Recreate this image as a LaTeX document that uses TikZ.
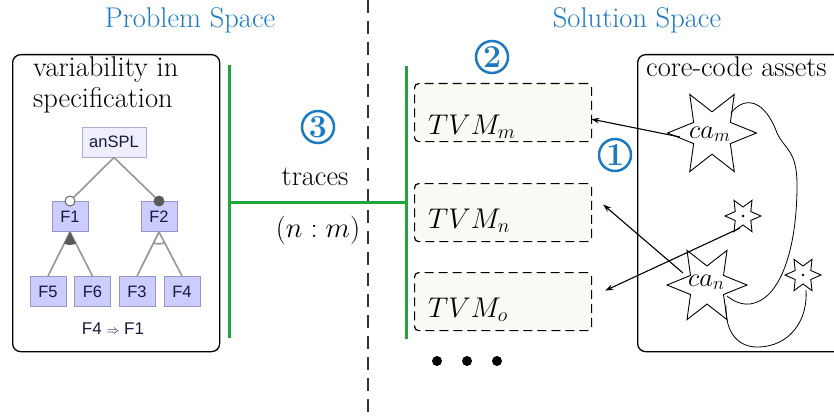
\RequirePackage{fix-cm}
\documentclass[tikz,border=0pt]{standalone}
\usepackage{fontspec}
\newfontfamily\fsans{Liberation Sans}
\usetikzlibrary{shapes.geometric,arrows.meta,calc}
\definecolor{tblue}{RGB}{28,122,194}
\definecolor{tgreen}{RGB}{30,165,60}
\definecolor{fbfill}{RGB}{204,204,255}
\definecolor{fbdraw}{RGB}{150,150,200}
\definecolor{rootfill}{RGB}{238,238,255}
\definecolor{fline}{RGB}{150,150,150}
\definecolor{fdark}{RGB}{90,90,90}
\definecolor{ftext}{RGB}{25,25,60}
\definecolor{tvmfill}{RGB}{250,250,245}
\begin{document}
\begin{tikzpicture}[x=1pt,y=-1pt,
  txt/.style={font=\fontsize{28.5}{32}\selectfont, inner sep=0, anchor=base},
  titletxt/.style={txt, text=tblue},
  numc/.style={circle, draw=tblue, text=tblue, line width=2.5pt, minimum size=32pt, inner sep=0, font=\fontsize{32}{32}\selectfont\bfseries},
  feat/.style={draw=fbdraw, fill=fbfill, line width=0.9pt, minimum width=36pt, minimum height=30pt, inner sep=0, font=\fsans\fontsize{16.5}{16.5}\selectfont, text=ftext},
  tvmbox/.style={draw, dash pattern=on 9pt off 5pt, line width=1.2pt, rounded corners=4pt, fill=tvmfill, minimum width=177pt, minimum height=58pt, inner sep=0, anchor=north west},
  tvmtxt/.style={font=\fontsize{28.5}{32}\selectfont, inner sep=0, anchor=base west},
  star6/.style={star, star points=6, star point ratio=2.1, shape border rotate=30, draw, line width=0.9pt, inner sep=0},
  container/.style={draw, line width=1.3pt, rounded corners=8pt, inner sep=0, anchor=north west},
  gline/.style={tgreen, line width=3pt},
  frel/.style={fline, line width=1.6pt},
  arr/.style={-{Stealth[length=8pt,width=5.5pt]}, line width=1.1pt},
  thin/.style={line width=0.8pt},
  dotn/.style={circle, fill, minimum size=10pt, inner sep=0}
]
\useasboundingbox (0,0) rectangle (834,417);
\clip (0,0) rectangle (834,417);

% divider
\draw[dash pattern=on 13pt off 8pt, line width=1.3pt, black!80] (368,0) -- (368,417);

% titles
\node[titletxt] (tp) at (190,28) {Problem Space};
\node[titletxt] (ts) at (637,28) {Solution Space};

% left container
\node[container, minimum width=207pt, minimum height=297pt] (pbox) at (12,54) {};
\node[txt, anchor=base west] (v1) at (33,77) {variability in};
\node[txt, anchor=base west] (v2) at (33,107) {specification};

% feature tree
\node[feat, fill=rootfill, draw=fbdraw!80, minimum width=64pt] (root) at (114,142) {anSPL};
\node[feat] (f1) at (70,216.5) {F1};
\node[feat] (f2) at (159,216.5) {F2};
\node[feat] (f5) at (48,291.5) {F5};
\node[feat] (f6) at (92.5,291.5) {F6};
\node[feat] (f3) at (137,291.5) {F3};
\node[feat] (f4) at (182,291.5) {F4};
\node[circle, draw=fdark, fill=white, line width=0.9pt, minimum size=10pt, inner sep=0] (o1) at (f1.north) {};
\node[circle, draw=fdark, fill=fdark, line width=0.9pt, minimum size=10pt, inner sep=0] (o2) at (f2.north) {};
\draw[frel] (root.south) -- (o1);
\draw[frel] (root.south) -- (o2);
\draw[frel] (f1.south) -- (f5.north);
\draw[frel] (f1.south) -- (f6.north);
\draw[frel] (f2.south) -- (f3.north);
\draw[frel] (f2.south) -- (f4.north);
\fill[fdark] (f1.south) -- ++(63.4:13) arc[start angle=63.4, end angle=116.1, radius=13] -- cycle;
\draw[frel] ($(f2.south)+(62.9:12)$) arc[start angle=62.9, end angle=116.1, radius=12];
\node[inner sep=0, anchor=base, text=ftext, font=\fsans\fontsize{17}{17}\selectfont] (cons) at (113,334) {F4 {\fontsize{13}{13}\selectfont$\Rightarrow$} F1};

% green traces
\coordinate (gl1) at (229,65);
\coordinate (gl2) at (229,338);
\coordinate (gm) at (229,202);
\coordinate (gr) at (406,202);
\coordinate (gr1) at (406,66);
\coordinate (gr2) at (406,339);
\draw[gline] (gl1) -- (gl2);
\draw[gline] (gm) -- (gr);
\draw[gline] (gr1) -- (gr2);
\node[numc] (n3) at (318,127) {3};
\node[txt] (tr) at (315,185) {traces};
\node[txt] (nm) at (318,237) {$(n:m)$};

% TVM boxes
\node[numc] (n2) at (492,57) {2};
\node[tvmbox] (tvmm) at (414,83) {};
\node[tvmbox] (tvmn) at (414,183) {};
\node[tvmbox] (tvmo) at (414,272) {};
\node[tvmtxt] (lm) at (428,134) {$TVM_m$};
\node[tvmtxt] (ln) at (428,228) {$TVM_n$};
\node[tvmtxt] (lo) at (428,317) {$TVM_o$};
\node[dotn] (d1) at (437,361) {};
\node[dotn] (d2) at (467,361) {};
\node[dotn] (d3) at (497,361) {};
\node[numc] (n1) at (615,155) {1};

% right container
\node[container, minimum width=230pt, minimum height=297pt] (cbox) at (637,54) {};
\node[txt, anchor=base west] (cc) at (646,77) {core-code assets};

% stars
\node[star6, minimum size=89pt] (cam) at (712,133) {};
\node[star6, minimum size=80pt] (can) at (707,285) {};
\node[star6, star point ratio=2, minimum size=36pt] (s1) at (743,216) {};
\node[star6, star point ratio=2, minimum size=36pt] (s2) at (803,275) {};
\fill (s1.center) circle (1.4);
\fill (s2.center) circle (1.4);
\node[tvmtxt, font=\fontsize{26.5}{30}\selectfont] (lcam) at (689,138) {$ca_m$};
\node[tvmtxt, font=\fontsize{26.5}{30}\selectfont] (lcan) at (688,286) {$ca_n$};

% curves
\draw[thin] ($(cam.center)+(19,-20)$) .. controls (745,95) and (765,100) .. (777,133)
  .. controls (785,150) and (797,150) .. (797,185)
  .. controls (797,250) and (780,300) .. (750,304)
  .. controls (740,305) and (732,300) .. ($(can.center)+(20,11)$);
\draw[thin] ($(can.center)+(19,20)$) .. controls (725,335) and (740,347) .. (757,347)
  .. controls (790,347) and (808,320) .. ($(s2.center)+(3,15)$);

% arrows
\draw[arr] ($(cam.center)+(-32,4)$) -- ($(tvmm.east)+(-1,6.5)$);
\draw[arr] ($(can.center)+(-24,-12)$) -- ($(tvmn.east)+(11,-8)$);
\draw[arr] ($(s1.center)+(-3,12)$) -- ($(tvmo.east)+(13,-11)$);
\end{tikzpicture}
\end{document}
